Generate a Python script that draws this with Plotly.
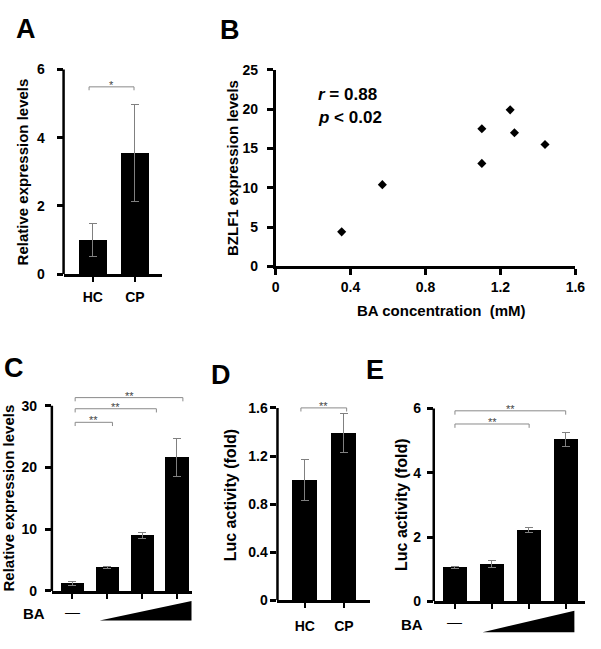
import plotly.graph_objects as go

W, H = 601, 649

# ---------------- data ----------------
a_groups = ["HC", "CP"]
a_values = [1.0, 3.55]
a_errors = [0.49, 1.41]
a_brackets = [(-0.09, 0.98, 5.49, "*")]

b_conc = [0.353, 0.570, 1.101, 1.101, 1.252, 1.275, 1.438]
b_bzlf1 = [4.4, 10.4, 17.5, 13.1, 19.9, 17.0, 15.5]
b_stats = ["<i>r</i> = 0.88", "<i>p</i> < 0.02"]

c_values = [1.2, 3.8, 9.0, 21.6]
c_errors = [0.35, 0.2, 0.45, 3.1]
c_brackets = [(0.08, 1.15, 27.3, "**"), (0.08, 2.41, 29.5, "**"), (0.08, 3.17, 31.3, "**")]

d_groups = ["HC", "CP"]
d_values = [1.0, 1.39]
d_errors = [0.17, 0.16]
d_brackets = [(-0.1, 1.07, 1.6, "**")]

e_values = [1.06, 1.16, 2.23, 5.05]
e_errors = [0.03, 0.12, 0.08, 0.22]
e_brackets = [(0.0, 2.01, 5.52, "**"), (0.0, 3.0, 5.93, "**")]

# ---------------- helpers (layout only) ----------------
FONT = "Liberation Sans, Arial, sans-serif"


def xd(a, b):
    return [a / W, b / W]


def yd(p0, pt, vt, vmax):
    ppu = (p0 - pt) / vt
    return [1 - p0 / H, 1 - (p0 - vmax * ppu) / H]


def px(x):
    return x / W


def py(y):
    return 1 - y / H


tickfont = dict(family=FONT, size=14, color="black", weight="bold")

fig = go.Figure()


def add_bars(xa, ya, vals, errs, width):
    fig.add_trace(go.Bar(
        x=list(range(len(vals))), y=vals, width=width,
        marker=dict(color="black", line=dict(width=0)),
        error_y=dict(type="data", array=errs, color="#808080", thickness=1, width=4),
        xaxis=xa, yaxis=ya, showlegend=False, hoverinfo="skip"))


def add_brackets(xa, ya, brackets, drop):
    for x0, x1, h, lab in brackets:
        fig.add_trace(go.Scatter(
            x=[x0, x0, x1, x1], y=[h - drop, h, h, h - drop], mode="lines",
            line=dict(color="#8a8a8a", width=1), xaxis=xa, yaxis=ya,
            showlegend=False, hoverinfo="skip"))
        fig.add_annotation(x=(x0 + x1) / 2, y=h, xref=xa, yref=ya, text=lab,
                           showarrow=False, yanchor="middle", yshift=2,
                           font=dict(family=FONT, size=11, color="#444444"))


# Panel A
add_bars("x", "y", a_values, a_errors, 0.67)
add_brackets("x", "y", a_brackets, 0.1)
# Panel B
fig.add_trace(go.Scatter(x=b_conc, y=b_bzlf1, mode="markers",
                         marker=dict(symbol="diamond", size=7, color="black"),
                         xaxis="x2", yaxis="y2", showlegend=False))
# Panel C
add_bars("x3", "y3", c_values, c_errors, 0.67)
add_brackets("x3", "y3", c_brackets, 0.6)
# Panel D
add_bars("x4", "y4", d_values, d_errors, 0.65)
add_brackets("x4", "y4", d_brackets, 0.03)
# Panel E
add_bars("x5", "y5", e_values, e_errors, 0.66)
add_brackets("x5", "y5", e_brackets, 0.12)


def xaxis_bar(dom, rng, anchor, ticktext=None, standoff=6):
    d = dict(domain=dom, range=rng, anchor=anchor, showline=True, linewidth=2.5,
             linecolor="black", ticks="outside", ticklen=5, tickwidth=2,
             tickcolor="black", showgrid=False, zeroline=False, tickfont=tickfont,
             fixedrange=True)
    n = len(ticktext) if ticktext else 4
    d["tickvals"] = list(range(n))
    d["ticktext"] = ticktext if ticktext else [""] * n
    d["ticklabelstandoff"] = standoff
    return d


def yaxis_bar(dom, rng, anchor, tickvals, ticktext, standoff):
    return dict(domain=dom, range=rng, anchor=anchor, showline=False,
                ticks="outside", ticklen=6, tickwidth=2.5, tickcolor="black",
                showgrid=False, zeroline=False, tickvals=tickvals, ticktext=ticktext,
                tickfont=tickfont, ticklabelstandoff=standoff, fixedrange=True)


layout = dict(
    width=W, height=H, margin=dict(l=0, r=0, t=0, b=0),
    paper_bgcolor="white", plot_bgcolor="white", showlegend=False,
    bargap=0,
    xaxis=xaxis_bar(xd(61, 162), [-0.697, 1.652], "y", a_groups, 3),
    yaxis=yaxis_bar(yd(273, 63, 6, 6.3), [0, 6.3], "x", [0, 2, 4, 6], ["0", "2", "4", "6"], 9),
    xaxis2=dict(domain=xd(278, 585), range=[0, 1.6], anchor="y2", showline=True,
                linewidth=2.5, linecolor="black", ticks="outside", ticklen=6, tickwidth=2.5,
                tickcolor="black", showgrid=False, zeroline=False,
                tickvals=[0, 0.4, 0.8, 1.2, 1.6], ticktext=["0", "0.4", "0.8", "1.2", "1.6"],
                tickfont=tickfont, ticklabelstandoff=0),
    yaxis2=dict(domain=yd(265, 63.3, 25, 25), range=[0, 25], anchor="x2", showline=True,
                linewidth=2.5, linecolor="black", ticks="outside", ticklen=6, tickwidth=2.5,
                tickcolor="black", showgrid=False, zeroline=False,
                tickvals=[0, 5, 10, 15, 20, 25], ticktext=["0", "5", "10", "15", "20", "25"],
                tickfont=tickfont, ticklabelstandoff=6),
    xaxis3=xaxis_bar(xd(49, 192), [-0.588, 3.418], "y3"),
    yaxis3=yaxis_bar(yd(597.7, 407.7, 30, 32), [0, 32], "x3", [0, 10, 20, 30], ["0", "10", "20", "30"], 5),
    xaxis4=xaxis_bar(xd(280, 375), [-0.7, 1.675], "y4", d_groups, 6),
    yaxis4=yaxis_bar(yd(607.3, 410, 1.6, 1.7), [0, 1.7], "x4", [0, 0.4, 0.8, 1.2, 1.6], ["0", "0.4", "0.8", "1.2", "1.6"], 0),
    xaxis5=xaxis_bar(xd(440, 595), [-0.574, 3.527], "y5"),
    yaxis5=yaxis_bar(yd(608.3, 410.7, 6, 6.2), [0, 6.2], "x5", [0, 2, 4, 6], ["0", "2", "4", "6"], 3),
)
fig.update_layout(**layout)

# y-axis lines for bar panels (stop at top tick)
for xa, ya, top in [("x", "y", 6), ("x3", "y3", 30), ("x4", "y4", 1.6), ("x5", "y5", 6)]:
    fig.add_shape(type="line", xref=xa + " domain", yref=ya, x0=0, x1=0, y0=0, y1=top,
                  line=dict(color="black", width=2.5))

# axis titles
title_font = dict(family=FONT, size=15, color="black", weight="bold")


def vtitle(text, x, y, size=15):
    fig.add_annotation(text=text, x=px(x), y=py(y), xref="paper", yref="paper",
                       textangle=-90, showarrow=False, xanchor="center", yanchor="middle",
                       font=dict(title_font, size=size))


vtitle("Relative expression levels", 19, 168)
vtitle("BZLF1 expression levels", 234.5, 164)
vtitle("Relative expression levels", 5, 502)
vtitle("Luc activity (fold)", 232, 500, 16)
vtitle("Luc activity (fold)", 407, 510, 16)
fig.add_annotation(text="BA concentration  (mM)", x=px(448), y=py(310), xref="paper", yref="paper",
                   showarrow=False, xanchor="center", yanchor="middle", font=title_font)

# stats text in B
for txt, yy in zip(b_stats, [89, 112]):
    fig.add_annotation(text=txt, x=px(319), y=py(yy), xref="paper", yref="paper",
                       showarrow=False, xanchor="left", yanchor="middle",
                       font=dict(family=FONT, size=17, color="black", weight="bold"))

# panel letters
for lab, x, y in [("A", 23, 22), ("B", 231, 23), ("C", 10, 369), ("D", 222, 376), ("E", 380, 371)]:
    fig.add_annotation(text=lab, x=px(x), y=py(y), xref="paper", yref="paper",
                       showarrow=False, xanchor="center", yanchor="middle",
                       font=dict(family=FONT, size=27, color="black", weight="bold"))

# BA dose rows
for xa, bax, bay, dashy, tri in [("x3", 31, 621, 619, (98, 192, 628, 608)),
                                 ("x5", 418, 632, 629, (490, 584, 640, 618))]:
    fig.add_annotation(text="BA", x=px(bax), y=py(bay), xref="paper", yref="paper",
                       showarrow=False, xanchor="center", yanchor="middle",
                       font=dict(family=FONT, size=15, color="black", weight="bold"))
    fig.add_annotation(text="—", x=0, y=py(dashy), xref=xa, yref="paper",
                       showarrow=False, xanchor="center", yanchor="middle",
                       font=dict(family=FONT, size=15, color="black"))
    x0, x1, yb, yt = tri
    fig.add_shape(type="path", xref="paper", yref="paper",
                  path=f"M {px(x0)} {py(yb)} L {px(x1)} {py(yb)} L {px(x1)} {py(yt)} Z",
                  fillcolor="black", line=dict(width=0))

fig.write_html("out.html")
